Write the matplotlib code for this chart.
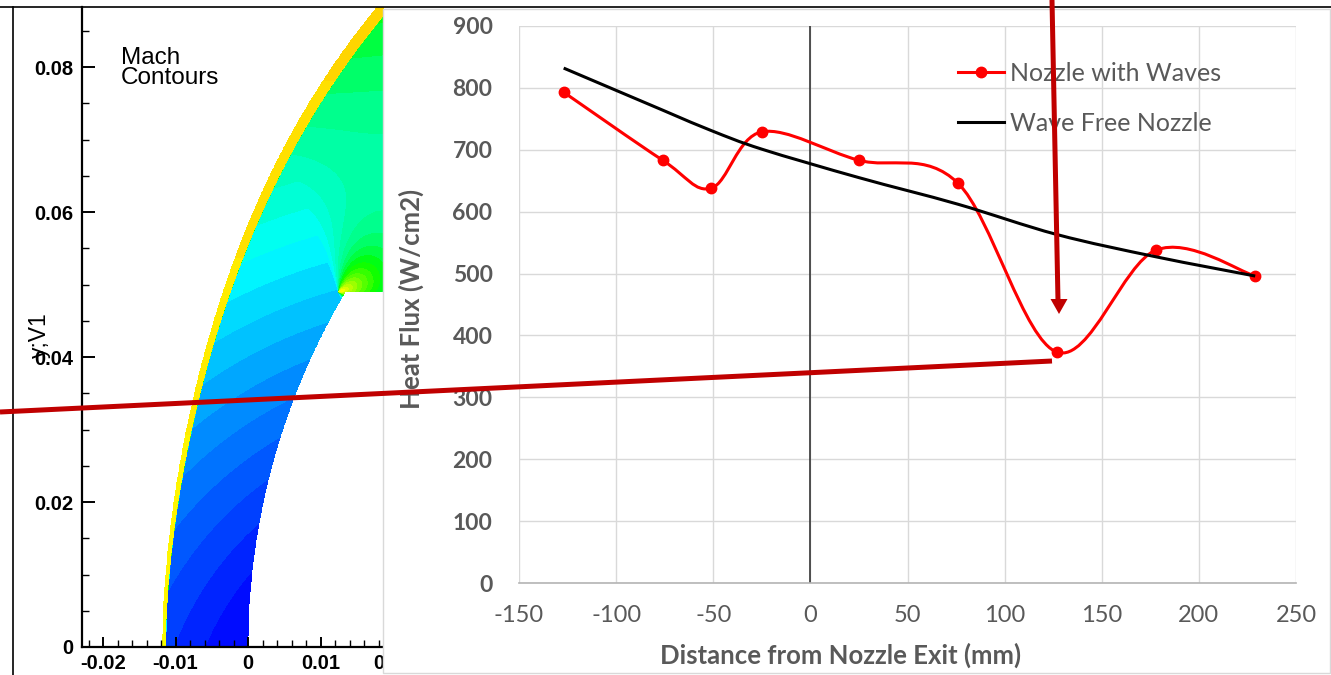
import numpy as np
import matplotlib
matplotlib.use("Agg")
import matplotlib.pyplot as plt
from matplotlib.colors import LinearSegmentedColormap
from matplotlib.lines import Line2D
from matplotlib.patches import PathPatch, Rectangle, Polygon
from matplotlib.path import Path
from matplotlib.ticker import MultipleLocator, FuncFormatter

plt.rcParams["axes.unicode_minus"] = False

W, H = 1331, 675
GRAY_TXT = "#595959"
ANNOT_RED = "#c00000"

# ── Heat flux along the wall ──────────────────────────────────────────────────
dist_mm = [-127, -76, -51, -25, 25, 76, 127, 178, 229]
flux_waves = [793, 683, 638, 729, 683, 646, 373, 538, 496]
flux_free = [832, 764, 731, 701, 655, 612, 563, 527, 496]
series_names = ["Nozzle with Waves", "Wave Free Nozzle"]
x_ticks = list(range(-150, 251, 50))
y_ticks = list(range(0, 901, 100))

# ── Mach contour geometry (metres) ────────────────────────────────────────────
shock_y = [0.0, 0.0217, 0.0341, 0.0430, 0.0548, 0.0665, 0.0762, 0.0847, 0.0883]
shock_x = [-0.0118, -0.0099, -0.0077, -0.0053, -0.0012, 0.0037, 0.0089, 0.0154, 0.0176]
body_radius = 0.0963
body_top = 0.049
corner = (0.0125, 0.049)


def fx(px):
    return px / W


def fy(py):
    return 1 - py / H


def smooth_path(xs, ys):
    """Catmull-Rom style bezier through the points (spreadsheet 'smoothed line')."""
    pts = np.column_stack([xs, ys]).astype(float)
    ext = np.vstack([pts[0], pts, pts[-1]])
    verts = [pts[0]]
    codes = [Path.MOVETO]
    for i in range(len(pts) - 1):
        p0, p1, p2, p3 = ext[i], ext[i + 1], ext[i + 2], ext[i + 3]
        verts += [p1 + (p2 - p0) / 6, p2 - (p3 - p1) / 6, p2]
        codes += [Path.CURVE4] * 3
    return Path(verts, codes)


fig = plt.figure(figsize=(W / 100, H / 100), dpi=100)
fig.patch.set_facecolor("white")

# ── Left: Mach contour flood ──────────────────────────────────────────────────
axm = fig.add_axes([fx(82), fy(647), fx(430) - fx(82), fy(7) - fy(647)])
axm.set_zorder(0)

gx = np.linspace(-0.0229, 0.0187, 700)
gy = np.linspace(0.0, 0.0883, 1300)
X, Y = np.meshgrid(gx, gy)
shock_fit = np.polyfit(shock_y, shock_x, 4)
xs = np.polyval(shock_fit, Y)
v = (np.hypot(X - 0.03, Y + 0.015) - 0.035) * 8.4
rc = np.hypot(X - corner[0], Y - corner[1])
ac = np.arctan2(Y - corner[1], X - corner[0])
v += 0.62 * np.exp(-rc / 0.0095) * np.clip(np.cos(ac - 0.35), 0, 1)
band = 0.0004 + 0.0014 * (Y / 0.088) ** 1.5
v = np.where(X - xs < band, 0.86 + 0.12 * Y / 0.088, v)
outside = X < xs
body = ((X - body_radius) ** 2 + Y ** 2 < body_radius ** 2) & (Y < body_top)
V = np.ma.masked_where(outside | body, np.clip(v, 0, 0.999))

mach_cmap = LinearSegmentedColormap.from_list("mach", [
    (0.0, "#0000ff"), (0.33, "#00ffff"), (0.5, "#00ff80"), (0.6, "#00ff00"),
    (0.75, "#99ff00"), (0.86, "#ffff00"), (1.0, "#ffd000")])
axm.contourf(X, Y, V, levels=np.linspace(0, 1, 31), cmap=mach_cmap)

axm.set_xlim(-0.0229, 0.0251)
axm.set_ylim(0, 0.0883)
for side in ["top", "right"]:
    axm.spines[side].set_visible(False)
for side in ["left", "bottom"]:
    axm.spines[side].set_linewidth(1.6)
axm.xaxis.set_major_locator(MultipleLocator(0.01))
axm.xaxis.set_minor_locator(MultipleLocator(0.002))
axm.yaxis.set_major_locator(MultipleLocator(0.02))
axm.yaxis.set_minor_locator(MultipleLocator(0.005))
fmt = FuncFormatter(lambda val, pos: "%g" % round(val, 4))
axm.xaxis.set_major_formatter(fmt)
axm.yaxis.set_major_formatter(fmt)
axm.tick_params(axis="both", which="major", direction="in", width=1.4,
                labelsize=14.5, colors="black")
axm.tick_params(axis="y", which="major", length=9.5, pad=6)
axm.tick_params(axis="x", which="major", length=7.5, pad=5)
axm.tick_params(axis="both", which="minor", direction="in", width=1.0, length=5)
for lbl in axm.get_xticklabels() + axm.get_yticklabels():
    lbl.set_fontfamily("Liberation Sans")
    lbl.set_fontweight("bold")
axm.text(-0.121, 0.4875, "y;V1", transform=axm.transAxes, rotation=90,
         ha="center", va="center", fontsize=16.5, family="Liberation Sans")
axm.text(0.112, 0.9375, "Mach\nContours", transform=axm.transAxes, ha="left", va="top",
         fontsize=17.5, family="Liberation Sans", linespacing=0.88)

# ── Right: heat flux chart panel ──────────────────────────────────────────────
fig.add_artist(Rectangle((fx(383), fy(673)), fx(1330) - fx(383), fy(9) - fy(673),
                         transform=fig.transFigure, facecolor="white",
                         edgecolor="#d9d9d9", lw=1.0, zorder=1))

ax = fig.add_axes([fx(519), fy(583), fx(1296) - fx(519), fy(26) - fy(583)])
ax.set_zorder(2)
ax.set_xlim(-150, 250)
ax.set_ylim(0, 900)
ax.set_xticks(x_ticks, labels=[str(t) for t in x_ticks], fontsize=17, family="Lato")
ax.set_yticks(y_ticks, labels=[str(t) for t in y_ticks], fontsize=16.5,
              family="Lato", fontweight="bold")
ax.grid(True, color="#d9d9d9", lw=1.0)
ax.set_axisbelow(True)
for side in ["top", "right", "left"]:
    ax.spines[side].set_visible(False)
ax.spines["bottom"].set_color("#b4b4b4")
ax.spines["bottom"].set_linewidth(1.2)
ax.axvline(0, color="#262626", lw=1.1, zorder=1.5)
ax.tick_params(length=0, colors=GRAY_TXT)
ax.tick_params(axis="y", pad=19)
ax.tick_params(axis="x", pad=16)

ax.add_patch(PathPatch(smooth_path(dist_mm, flux_waves), fill=False,
                       edgecolor="#ff0000", lw=2.2, zorder=3))
ax.plot(dist_mm, flux_waves, ls="none", marker="o", ms=7.5, color="#ff0000", zorder=3)
ax.add_patch(PathPatch(smooth_path(dist_mm, flux_free), fill=False,
                       edgecolor="black", lw=2.2, zorder=4))

ax.set_xlabel("Distance from Nozzle Exit (mm)", fontsize=18.5, fontweight="bold",
              family="Lato", color=GRAY_TXT)
ax.xaxis.set_label_coords(0.4144, -0.129)
ax.xaxis.label.set_va("center")
ax.set_ylabel("Heat Flux (W/cm2)", fontsize=18.5, fontweight="bold",
              family="Lato", color=GRAY_TXT)
ax.yaxis.set_label_coords(-0.138, 0.51)
ax.yaxis.label.set_va("center")

handles = [Line2D([], [], color="#ff0000", lw=2.2, marker="o", ms=7.5),
           Line2D([], [], color="black", lw=2.2)]
ax.legend(handles, series_names, loc="upper left", frameon=False,
          bbox_to_anchor=(fx(958), fy(62)), bbox_transform=fig.transFigure,
          borderpad=0, borderaxespad=0, handlelength=1.84, handletextpad=0.24,
          labelspacing=1.08, prop={"family": "Lato", "size": 18},
          labelcolor=GRAY_TXT)

# ── Frame lines and call-out markings ─────────────────────────────────────────
fig.add_artist(Line2D([0, 1], [fy(7), fy(7)], transform=fig.transFigure,
                      color="black", lw=1.2, zorder=6))
fig.add_artist(Line2D([fx(13), fx(13)], [fy(7), 0], transform=fig.transFigure,
                      color="black", lw=1.2, zorder=6))
fig.add_artist(Line2D([fx(0), fx(1052)], [fy(412), fy(361)], transform=fig.transFigure,
                      color=ANNOT_RED, lw=3.6, solid_capstyle="butt", zorder=7))
fig.add_artist(Line2D([fx(1052), fx(1058)], [fy(0), fy(301)], transform=fig.transFigure,
                      color=ANNOT_RED, lw=3.6, solid_capstyle="butt", zorder=7))
fig.add_artist(Polygon([(fx(1050.5), fy(299)), (fx(1067.5), fy(299)), (fx(1059), fy(314))],
                       closed=True, transform=fig.transFigure, facecolor=ANNOT_RED,
                       edgecolor="none", zorder=7))

fig.savefig("out.png", dpi=100)
